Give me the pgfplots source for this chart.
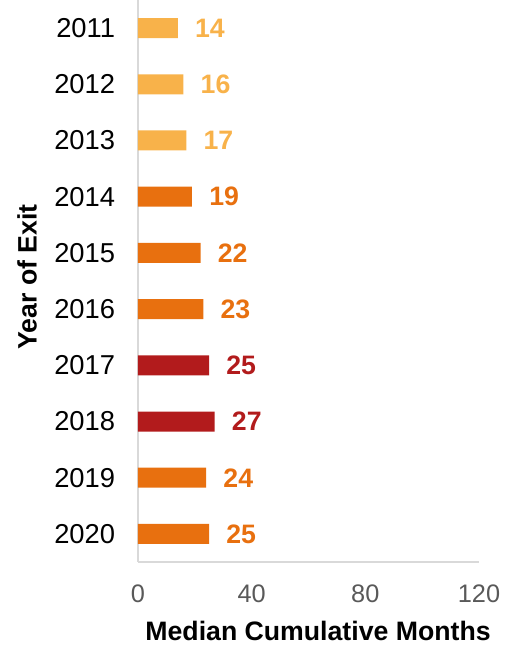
\documentclass[border=0pt]{standalone}
\usepackage{pgfplots}
\pgfplotsset{compat=1.18}
\usepackage{fontspec}
\setmainfont{Liberation Sans}
\definecolor{lightor}{HTML}{F8B24A}
\definecolor{darkor}{HTML}{E8700F}
\definecolor{darkred}{HTML}{B21B1C}
\definecolor{axgray}{HTML}{D9D9D9}
\definecolor{tickgray}{HTML}{595959}
\begin{document}
\begin{tikzpicture}
\useasboundingbox (-103.5pt,-62.25pt) rectangle (276.75pt,421.5pt);
\begin{axis}[
  scale only axis,
  width=255.75pt, height=421.5pt,
  xmin=0, xmax=120,
  ymin=0.5, ymax=10.5,
  y dir=reverse,
  xtick={0,40,80,120},
  ytick={1,...,10},
  yticklabels={2011,2012,2013,2014,2015,2016,2017,2018,2019,2020},
  axis x line*=bottom,
  axis y line*=left,
  axis line style={draw=axgray, line width=1.5pt, -},
  major tick length=0pt,
  xticklabel style={font=\fontsize{19pt}{20pt}\selectfont, text=tickgray, anchor=north, inner sep=0pt, yshift=-17.25pt},
  yticklabel style={font=\fontsize{20.5pt}{22pt}\selectfont, text=black, anchor=east, inner sep=0pt, xshift=-17pt},
  /pgf/number format/assume math mode=true,
  xlabel={Median Cumulative Months},
  ylabel={Year of Exit},
  xlabel style={font=\bfseries\fontsize{20pt}{22pt}\selectfont, at={(axis description cs:0.528,-0.1235)}, anchor=center, inner sep=0pt},
  ylabel style={font=\bfseries\fontsize{20pt}{22pt}\selectfont, at={(axis description cs:-0.3255,0.507)}, anchor=center, rotate=0, inner sep=0pt},
  xbar, bar width=15pt, bar shift=0pt,
  nodes near coords,
  every node near coord/.append style={anchor=west, inner sep=0pt, xshift=12.75pt, font=\bfseries\fontsize{20pt}{22pt}\selectfont},
  clip=false,
]
\addplot[draw=none, fill=lightor, nodes near coords style={text=lightor}] coordinates {(14,1) (16,2) (17,3)};
\addplot[draw=none, fill=darkor, nodes near coords style={text=darkor}] coordinates {(19,4) (22,5) (23,6) (24,9) (25,10)};
\addplot[draw=none, fill=darkred, nodes near coords style={text=darkred}] coordinates {(25,7) (27,8)};
\end{axis}
\end{tikzpicture}
\end{document}
